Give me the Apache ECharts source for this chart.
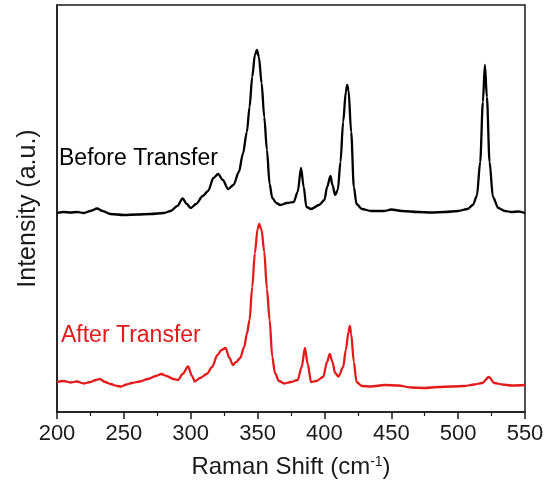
<!DOCTYPE html>
<html>
<head>
<meta charset="utf-8">
<script src="https://cdn.jsdelivr.net/npm/echarts@6/dist/echarts.min.js"></script>
<style>
  html, body { margin: 0; padding: 0; background: #fff; }
  #chart { width: 548px; height: 486px; }
</style>
</head>
<body>
<div id="chart"></div>
<script>
// Raman shift (cm-1) vs intensity (a.u., offset stacked as in the figure)
const seriesNames = ['Before Transfer', 'After Transfer'];
const xTicks = [200, 250, 300, 350, 400, 450, 500, 550];

const beforeTransfer = [
  [200, 199], [205, 200], [210, 199.5], [215, 200], [220, 199], [225, 201], [230, 203.5], [234, 201],
  [240, 198], [250, 197], [260, 197.5], [270, 198], [280, 199], [285, 201], [290, 206], [294, 213.5],
  [297, 208], [300, 204], [304, 208], [309, 216], [313, 221], [317, 234], [320.5, 238], [324, 232],
  [328, 223], [332, 227], [336, 240], [339, 258], [342, 280], [344, 305], [346, 335], [348, 357],
  [349.5, 362], [351, 355], [353, 329], [355, 295], [357, 262], [359, 228], [361, 214], [364, 209],
  [367, 207], [372, 209], [377, 210], [380, 220], [382.5, 244], [384.5, 225], [386.5, 205], [390, 203],
  [396, 207], [400, 212], [402, 225], [404.5, 236], [406, 227], [408, 217], [410, 222], [412, 250],
  [414, 290], [416, 320], [417, 327], [418, 322], [420, 280], [422, 225], [424, 208], [428, 203],
  [435, 201], [445, 201], [450, 202.5], [458, 201], [470, 200], [480, 199.5], [490, 200], [500, 201],
  [507, 203], [511, 207], [514, 216], [516.5, 250], [518.5, 310], [520, 347], [521.5, 315], [523.5, 250],
  [526, 215], [530, 204], [535, 201], [540, 200], [545, 200.5], [550, 199]
];

const afterTransfer = [
  [200, 30], [205, 31], [210, 29.5], [215, 30.5], [220, 28.5], [225, 30], [229, 32], [232, 33],
  [236, 30], [240, 28], [245, 26], [248, 25.5], [252, 27.5], [256, 29], [262, 30.5], [268, 33],
  [274, 36], [278, 38], [282, 36], [287, 33], [290.5, 32], [294, 38], [298, 45.5], [301, 36],
  [303, 30.5], [307, 34], [312, 38], [316, 45], [320, 57], [323, 62], [326, 64], [329, 54],
  [331.5, 47], [334, 50], [337, 54], [340, 65], [342, 78], [344, 92], [346, 125], [348, 159],
  [350, 183], [351.2, 188], [353, 182], [355, 160], [357, 123], [359, 92], [361, 55], [363, 39],
  [366, 31], [370, 28.5], [375, 30], [380, 32], [383, 45], [385.4, 64], [387.5, 48], [390, 30],
  [394, 31], [399, 35], [402, 50], [404, 58], [406, 50], [408, 39], [410.5, 35.5], [414, 45],
  [416, 62], [418, 80], [419, 86], [420, 78], [422, 50], [424, 30], [428, 26], [435, 25.5],
  [445, 27], [455, 26.5], [465, 24.5], [475, 24], [485, 25], [495, 25.5], [505, 26], [512, 27.5],
  [518, 29], [523, 35], [527, 29], [533, 27.5], [540, 26.5], [550, 27]
];

const chart = echarts.init(document.getElementById('chart'), null, { renderer: 'canvas' });
const FONT = 'Liberation Sans, Arial, sans-serif';

chart.setOption({
  animation: false,
  backgroundColor: '#fff',
  grid: {
    left: 57, right: 23, top: 5, bottom: 74,
    show: true, borderColor: '#1a1a1a', borderWidth: 1.5
  },
  xAxis: {
    type: 'value',
    min: xTicks[0], max: xTicks[xTicks.length - 1], interval: 50,
    name: 'Raman Shift (cm{sup|-1})',
    nameLocation: 'middle',
    nameGap: 43,
    nameTextStyle: {
      fontFamily: FONT, fontSize: 24, color: '#1a1a1a',
      rich: { sup: { fontFamily: FONT, fontSize: 14, verticalAlign: 'top', padding: [0, 0, 10, 0], color: '#1a1a1a' } }
    },
    axisLine: { show: true, onZero: false, lineStyle: { color: '#1a1a1a', width: 1.5 } },
    axisTick: { show: true, inside: false, length: 7, lineStyle: { color: '#1a1a1a', width: 1.5 } },
    minorTick: { show: true, splitNumber: 2, length: 4, lineStyle: { color: '#1a1a1a', width: 1.2 } },
    axisLabel: { fontFamily: FONT, fontSize: 22, color: '#1a1a1a', margin: 11 },
    splitLine: { show: false }
  },
  yAxis: {
    type: 'value',
    min: 0, max: 407,
    name: 'Intensity (a.u.)',
    nameLocation: 'middle',
    nameGap: 16,
    nameRotate: 90,
    nameTextStyle: { fontFamily: FONT, fontSize: 25, color: '#1a1a1a' },
    axisLine: { show: true, lineStyle: { color: '#1a1a1a', width: 1.5 } },
    axisTick: { show: false },
    axisLabel: { show: false },
    splitLine: { show: false }
  },
  series: [
    {
      name: seriesNames[0], type: 'line', data: beforeTransfer,
      showSymbol: false, smooth: 0.3, smoothMonotone: 'x',
      lineStyle: { color: '#000', width: 2.3 }
    },
    {
      name: seriesNames[1], type: 'line', data: afterTransfer,
      showSymbol: false, smooth: 0.3, smoothMonotone: 'x',
      lineStyle: { color: '#e31a1a', width: 2.3 }
    }
  ],
  graphic: [
    {
      type: 'text', left: 59, top: 147,
      style: { text: seriesNames[0], fontFamily: FONT, fontSize: 23, fill: '#000' }
    },
    {
      type: 'text', left: 61, top: 324,
      style: { text: seriesNames[1], fontFamily: FONT, fontSize: 23, fill: '#e31a1a' }
    }
  ]
});
</script>
</body>
</html>
